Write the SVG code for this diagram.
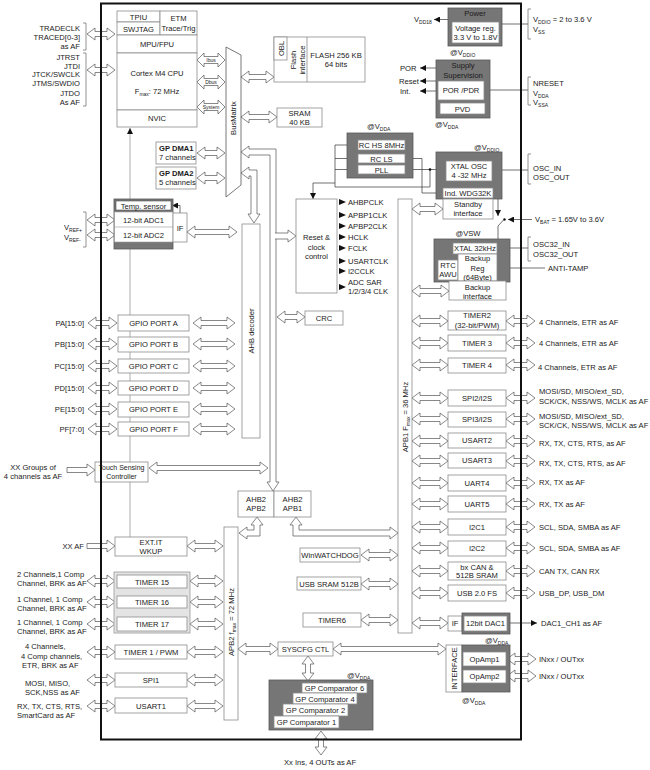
<svg xmlns="http://www.w3.org/2000/svg" width="650" height="770" viewBox="0 0 650 770">
<style>
text{font-family:"Liberation Sans",Arial,sans-serif;font-size:7.6px;fill:#1a1a1a}
.c{text-anchor:middle}
.e{text-anchor:end}
.b{font-weight:bold}
.s{font-size:5px}
.sm{font-size:7px}
.bx{fill:#fff;stroke:#8c8c8c;stroke-width:0.8}
.dk{fill:#767676;stroke:#5a5a5a;stroke-width:0.8}
.lg{fill:#e4e4e4;stroke:#999;stroke-width:0.8}
.ar{fill:#fff;stroke:#555;stroke-width:0.7}
.ln{fill:none;stroke:#333;stroke-width:0.7}
.gl{fill:none;stroke:#999;stroke-width:0.8}
.br{fill:none;stroke:#777;stroke-width:0.8}
.hd{fill:#111}
</style>
<defs>
<marker id="m" viewBox="0 0 10 10" refX="10" refY="5" markerWidth="6" markerHeight="6" markerUnits="userSpaceOnUse" orient="auto"><path d="M0,0L10,5L0,10z" fill="#111"/></marker>
<path id="a28" d="M0,0l8,-6v3.5h12v-3.5l8,6l-8,6v-3.5h-12v3.5z"/>
<path id="a29" d="M0,0l8,-6v3.5h13v-3.5l8,6l-8,6v-3.5h-13v3.5z"/>
<path id="a33" d="M0,0l8,-6v3.5h17v-3.5l8,6l-8,6v-3.5h-17v3.5z"/>
<path id="a36" d="M0,0l8,-6v3.5h20v-3.5l8,6l-8,6v-3.5h-20v3.5z"/>
<path id="a37" d="M0,0l8,-6v3.5h21v-3.5l8,6l-8,6v-3.5h-21v3.5z"/>
<path id="a42" d="M0,0l8,-6v3.5h26v-3.5l8,6l-8,6v-3.5h-26v3.5z"/>
<path id="ib" d="M0,0l7,-7v3.5h14v-3.5l7,7l-7,7v-3.5h-14v3.5z"/>
<path id="tri" d="M0,-3L7,0L0,3z"/>
</defs>

<g id="connectors">
<path class="gl" d="M130,537V128" marker-end="url(#m)"/>
<use href="#a28" x="87" y="34" class="ar"/>
<use href="#a28" x="87" y="70" class="ar"/>
<use href="#a28" x="87" y="220" class="ar"/>
<use href="#a28" x="87" y="235" class="ar"/>
<use href="#a29" x="88" y="323" class="ar"/>
<use href="#a29" x="88" y="344" class="ar"/>
<use href="#a29" x="88" y="366" class="ar"/>
<use href="#a29" x="88" y="388" class="ar"/>
<use href="#a29" x="88" y="409" class="ar"/>
<use href="#a29" x="88" y="429" class="ar"/>
<use href="#a42" x="193" y="323" class="ar"/>
<use href="#a42" x="193" y="344" class="ar"/>
<use href="#a42" x="193" y="366" class="ar"/>
<use href="#a42" x="193" y="388" class="ar"/>
<use href="#a42" x="193" y="409" class="ar"/>
<use href="#a42" x="193" y="429" class="ar"/>
<path class="ar" d="M149,468l8,-6v3.5h103v-3.5l8,6l-8,6v-3.5h-103v3.5z"/>
<path class="ar" d="M67,467.5h20v-3.5l8,6l-8,6v-3.5h-20z"/>
<path class="ar" d="M87,543.5h20v-3.5l8,6l-8,6v-3.5h-20z"/>
<use href="#a36" x="187" y="546" class="ar"/>
<use href="#a28" x="87" y="581" class="ar"/>
<use href="#a28" x="87" y="602" class="ar"/>
<use href="#a28" x="87" y="624" class="ar"/>
<use href="#a33" x="190" y="581" class="ar"/>
<use href="#a33" x="190" y="602" class="ar"/>
<use href="#a33" x="190" y="624" class="ar"/>
<use href="#a28" x="87" y="652" class="ar"/>
<use href="#a28" x="87" y="680" class="ar"/>
<use href="#a28" x="87" y="706" class="ar"/>
<use href="#a36" x="187" y="652" class="ar"/>
<use href="#a36" x="187" y="680" class="ar"/>
<use href="#a36" x="187" y="706" class="ar"/>
<use href="#ib" x="197" y="60" class="ar"/>
<use href="#ib" x="197" y="82" class="ar"/>
<use href="#ib" x="197" y="107" class="ar"/>
<text class="s c" x="211" y="61.8">Ibus</text>
<text class="s c" x="211" y="83.8">Dbus</text>
<text class="s c" x="211" y="108.8">System</text>
<use href="#a28" x="197" y="153" class="ar"/>
<use href="#a28" x="197" y="178" class="ar"/>
<use href="#a33" x="241" y="77" class="ar"/>
<use href="#a36" x="241" y="117" class="ar"/>
<path class="ar" d="M187,232l8,-6v3.5h34v-3.5l8,6l-8,6v-3.5h-34v3.5z"/>
<path class="ar" d="M241,152L249,146L249,149L276,149L276,482L279,482L273,491L267,482L270,482L270,155L249,155L249,158Z"/>
<path class="ar" d="M275,233H288V230L296,236L288,242V239H275"/>
<path class="ar" d="M241,173L249,167L249,170L257,170L257,214L260,214L254,223L248,214L251,214L251,176L249,176L249,179Z"/>
<use href="#a28" x="277" y="317" class="ar"/>
<path class="ar" d="M296,517L302,525L299,525L299,530L390,530L390,527L398,533L390,539L390,536L293,536L293,525L290,525Z"/>
<path class="ar" d="M257,517L263,525L260,525L260,536L247,536L247,539L239,533L247,527L247,530L254,530L254,525L251,525Z"/>
<path class="ar" d="M412,209l8,-6v3.5h15v-3.5l8,6l-8,6v-3.5h-15v3.5z"/>
<use href="#a37" x="412" y="291" class="ar"/>
<use href="#a36" x="412" y="321" class="ar"/>
<use href="#a36" x="412" y="343" class="ar"/>
<use href="#a36" x="412" y="365" class="ar"/>
<use href="#a36" x="412" y="398" class="ar"/>
<use href="#a36" x="412" y="419" class="ar"/>
<use href="#a36" x="412" y="441" class="ar"/>
<use href="#a36" x="412" y="461" class="ar"/>
<use href="#a36" x="412" y="483" class="ar"/>
<use href="#a36" x="412" y="504" class="ar"/>
<use href="#a36" x="412" y="527" class="ar"/>
<use href="#a36" x="412" y="548" class="ar"/>
<use href="#a36" x="412" y="571" class="ar"/>
<use href="#a36" x="412" y="593" class="ar"/>
<use href="#a36" x="412" y="623" class="ar"/>
<use href="#a29" x="506" y="321" class="ar"/>
<use href="#a29" x="506" y="343" class="ar"/>
<use href="#a29" x="506" y="365" class="ar"/>
<use href="#a29" x="506" y="398" class="ar"/>
<use href="#a29" x="506" y="419" class="ar"/>
<use href="#a29" x="506" y="441" class="ar"/>
<use href="#a29" x="506" y="461" class="ar"/>
<use href="#a29" x="506" y="483" class="ar"/>
<use href="#a29" x="506" y="504" class="ar"/>
<use href="#a29" x="506" y="527" class="ar"/>
<use href="#a29" x="506" y="548" class="ar"/>
<use href="#a29" x="506" y="571" class="ar"/>
<use href="#a29" x="506" y="593" class="ar"/>
<use href="#a37" x="361" y="555" class="ar"/>
<use href="#a37" x="361" y="584" class="ar"/>
<use href="#a37" x="361" y="620" class="ar"/>
<path class="ar" d="M238,649l8,-6v3.5h24v-3.5l8,6l-8,6v-3.5h-24v3.5z"/>
<path class="ar" d="M333,649l8,-6v3.5h97v-3.5l8,6l-8,6v-3.5h-97v3.5z"/>
<path class="ar" d="M308,656l6,8h-3.5v9h3.5l-6,8l-6,-8h3.5v-9h-3.5z"/>
<path class="ar" d="M321,731l6,8h-3.5v8h3.5l-6,8l-6,-8h3.5v-8h-3.5z"/>
<use href="#a29" x="507" y="659" class="ar"/>
<use href="#a29" x="507" y="676" class="ar"/>
<path class="ln" d="M448,19.5H434" marker-end="url(#m)"/>
<path class="ln" d="M436,68H420" marker-end="url(#m)"/>
<path class="ln" d="M438,81H420" marker-end="url(#m)"/>
<path class="ln" d="M438,91H420" marker-end="url(#m)"/>
<path class="ln" d="M502,24H528"/>
<path class="ln" d="M490,90H528"/>
<path class="ln" d="M358,145H335V187H430V169.5"/>
<path class="ln" d="M358,158.5H335M358,169.5H335"/>
<path class="ln" d="M405,158.5H422V193H443" marker-end="url(#m)"/>
<path class="ln" d="M405,169.5H446"/>
<circle class="hd" cx="430" cy="169.5" r="1.3"/>
<path class="ln" d="M335,183H313V199" marker-end="url(#m)"/>
<path class="ln" d="M492,170H528"/>
<path class="ln" d="M498,199V216" marker-end="url(#m)"/>
<path class="ln" d="M498,239V226L504,219.5"/>
<circle class="hd" cx="504.5" cy="219.5" r="1.2"/>
<path class="ln" d="M532,219.5H508" marker-end="url(#m)"/>
<path class="ln" d="M497,248H528"/>
<path class="ln" d="M545,268H498" marker-end="url(#m)"/>
<path class="ln" d="M180,213V205.5H172" marker-end="url(#m)"/>
<path class="ln" d="M507,623H537" marker-end="url(#m)"/>
<use href="#tri" x="339" y="202" class="hd"/>
<use href="#tri" x="339" y="215" class="hd"/>
<use href="#tri" x="339" y="226" class="hd"/>
<use href="#tri" x="339" y="237" class="hd"/>
<use href="#tri" x="339" y="248" class="hd"/>
<use href="#tri" x="339" y="261" class="hd"/>
<use href="#tri" x="339" y="271" class="hd"/>
<use href="#tri" x="339" y="287" class="hd"/>
<path class="br" d="M83,23H86V50H83M83,53H86V106H83M83,212H86V247H83"/>
<path class="br" d="M531,9H528V39H531M531,77H528V105H531M531,154H528V184H531M531,237H528V261H531"/>
</g>

<g id="cpu">
<rect class="bx" x="117" y="11" width="43" height="11"/>
<rect class="bx" x="117" y="22" width="43" height="13"/>
<rect class="bx" x="160" y="11" width="37" height="24"/>
<rect class="bx" x="117" y="35" width="80" height="18"/>
<rect class="bx" x="117" y="53" width="80" height="57"/>
<rect class="bx" x="117" y="110" width="80" height="17"/>
<text class="c" x="138.5" y="19.5">TPIU</text>
<text class="c" x="138.5" y="31.5">SWJTAG</text>
<text class="c" x="178.5" y="21">ETM</text>
<text class="c" x="178.5" y="30.5">Trace/Trig</text>
<text class="c" x="157" y="47">MPU/FPU</text>
<text class="c" x="157" y="76">Cortex M4 CPU</text>
<text class="c" x="157" y="94">F<tspan class="s" dy="1.5">max</tspan><tspan dy="-1.5">: 72 MHz</tspan></text>
<text class="c" x="157" y="121">NVIC</text>
</g>

<g id="debug-pins">
<text class="e" x="80" y="31">TRADECLK</text>
<text class="e" x="80" y="40">TRACED[0-3]</text>
<text class="e" x="80" y="49">as AF</text>
<text class="e" x="80" y="60">JTRST</text>
<text class="e" x="80" y="69">JTDI</text>
<text class="e" x="80" y="77">JTCK/SWCLK</text>
<text class="e" x="80" y="86">JTMS/SWDIO</text>
<text class="e" x="80" y="96">JTDO</text>
<text class="e" x="80" y="105">As AF</text>
</g>

<g id="busmatrix">
<polygon points="226,47 241,55 241,185 226,197" fill="#fff" stroke="#555" stroke-width="0.8"/>
<text class="c" transform="translate(236,118) rotate(-90)">BusMatrix</text>
</g>

<g id="flash">
<rect class="bx" x="274" y="37" width="91" height="45"/>
<line x1="307" y1="37" x2="307" y2="82" stroke="#8c8c8c" stroke-width="0.8"/>
<rect class="bx" x="274" y="37" width="13" height="23"/>
<text class="c" transform="translate(283.5,48.5) rotate(-90)">OBL</text>
<text class="c" transform="translate(296,60) rotate(-90)">Flash</text>
<text class="c" transform="translate(305,60) rotate(-90)">interface</text>
<text class="c" x="336" y="58">FLASH 256 KB</text>
<text class="c" x="336" y="67">64 bits</text>
</g>

<g id="sram">
<rect class="bx" x="277" y="108" width="45" height="19"/>
<text class="c" x="299.5" y="116">SRAM</text>
<text class="c" x="299.5" y="125">40 KB</text>
</g>

<g id="power">
<rect class="dk" x="448" y="8" width="54" height="38"/>
<text class="c" x="475" y="16">Power</text>
<rect class="bx" x="452" y="22" width="47" height="21"/>
<text class="c" x="475.5" y="31">Voltage reg.</text>
<text class="c" x="475.5" y="40">3.3 V to 1.8V</text>
<text x="414" y="22">V<tspan class="s" dy="1.5">DD18</tspan></text>
<text x="450" y="55">@V<tspan class="s" dy="1.5">DDIO</tspan></text>
<text x="533" y="22">V<tspan class="s" dy="1.5">DDIO</tspan><tspan dy="-1.5"> = 2 to 3.6 V</tspan></text>
<text x="533" y="32">V<tspan class="s" dy="1.5">SS</tspan></text>
</g>

<g id="supply">
<rect class="dk" x="436" y="60" width="54" height="58"/>
<text class="c" x="463" y="68">Supply</text>
<text class="c" x="463" y="77.5">Supervision</text>
<rect class="bx" x="438" y="81" width="46" height="19"/>
<text class="c" x="461" y="93">POR /PDR</text>
<rect class="bx" x="440" y="103" width="45" height="11"/>
<text class="c" x="462.5" y="111.5">PVD</text>
<text x="400" y="71">POR</text>
<text x="399" y="84">Reset</text>
<text x="400" y="94">Int.</text>
<text x="435" y="127">@V<tspan class="s" dy="1.5">DDA</tspan></text>
<text x="533" y="86">NRESET</text>
<text x="533" y="96">V<tspan class="s" dy="1.5">DDA</tspan></text>
<text x="533" y="105">V<tspan class="s" dy="1.5">SSA</tspan></text>
</g>

<g id="dma1">
<rect class="bx" x="156" y="142" width="40" height="22"/>
<text class="b" x="159" y="151">GP DMA1</text>
<text x="159" y="160">7 channels</text>
</g>
<g id="dma2">
<rect class="bx" x="156" y="167" width="40" height="22"/>
<text class="b" x="159" y="176">GP DMA2</text>
<text x="159" y="185">5 channels</text>
</g>

<g id="rc-osc">
<text x="367" y="129">@V<tspan class="s" dy="1.5">DDA</tspan></text>
<rect class="dk" x="347" y="133" width="66" height="45"/>
<rect class="bx" x="358" y="140" width="47" height="10"/>
<text class="c" x="381.5" y="148">RC HS 8MHz</text>
<rect class="bx" x="358" y="154" width="47" height="9"/>
<text class="c" x="381.5" y="161.5">RC LS</text>
<rect class="bx" x="358" y="165" width="47" height="9"/>
<text class="c" x="381.5" y="172.5">PLL</text>
</g>

<g id="xtal-osc">
<text x="474" y="150">@V<tspan class="s" dy="1.5">DDIO</tspan></text>
<rect class="dk" x="436" y="152" width="66" height="47"/>
<rect class="bx" x="446" y="161" width="46" height="20"/>
<text class="c" x="469" y="169">XTAL OSC</text>
<text class="c" x="469" y="178">4 -32 MHz</text>
<rect class="bx" x="443" y="188" width="50" height="10"/>
<text class="c" x="468" y="196">Ind. WDG32K</text>
<text x="533" y="171">OSC_IN</text>
<text x="533" y="180">OSC_OUT</text>
</g>

<g id="standby">
<rect class="bx" x="443" y="199" width="50" height="20"/>
<text class="c" x="468" y="207">Standby</text>
<text class="c" x="468" y="216">interface</text>
<text x="535" y="222">V<tspan class="s" dy="1.5">BAT</tspan><tspan dy="-1.5"> = 1.65V to 3.6V</tspan></text>
</g>

<g id="backup-domain">
<text class="c" x="468" y="236">@VSW</text>
<rect class="dk" x="434" y="239" width="76" height="43"/>
<rect class="bx" x="453" y="243" width="44" height="11"/>
<text class="c" x="475" y="251">XTAL 32kHz</text>
<rect class="bx" x="438" y="260" width="20" height="20"/>
<text class="c" x="448" y="268">RTC</text>
<text class="c" x="448" y="277">AWU</text>
<rect class="bx" x="458" y="254" width="39" height="27"/>
<text class="c" x="477.5" y="261">Backup</text>
<text class="c" x="477.5" y="270.5">Reg</text>
<text class="c" x="477.5" y="280">(64Byte)</text>
<text x="533" y="247">OSC32_IN</text>
<text x="533" y="257">OSC32_OUT</text>
<text x="548" y="271">ANTI-TAMP</text>
</g>

<g id="backup-if">
<rect class="bx" x="449" y="281" width="57" height="19"/>
<text class="c" x="477.5" y="290">Backup</text>
<text class="c" x="477.5" y="298.5">interface</text>
</g>

<g id="adc">
<rect class="dk" x="114" y="199" width="59" height="50"/>
<rect fill="#fff" stroke="#999" stroke-width="0.6" x="114.5" y="212" width="58.5" height="30"/>
<line x1="114.5" y1="227" x2="173" y2="227" stroke="#999" stroke-width="0.6"/>
<rect fill="#fff" stroke="#555" stroke-width="0.6" x="116" y="201" width="55" height="9"/>
<text class="c" x="143.5" y="208.5">Temp. sensor</text>
<text class="c" x="143.5" y="223">12-bit ADC1</text>
<text class="c" x="143.5" y="238">12-bit ADC2</text>
<rect class="bx" x="173" y="213" width="14" height="29"/>
<text class="c" x="180" y="231">IF</text>
<text x="64" y="230">V<tspan class="s" dy="1.5">REF+</tspan></text>
<text x="64" y="240">V<tspan class="s" dy="1.5">REF-</tspan></text>
</g>

<g id="reset-clock">
<rect class="bx" x="296" y="199" width="41" height="94"/>
<text class="c" x="316.5" y="240">Reset &amp;</text>
<text class="c" x="316.5" y="250">clock</text>
<text class="c" x="316.5" y="259">control</text>
<text x="348" y="205">AHBPCLK</text>
<text x="348" y="218">APBP1CLK</text>
<text x="348" y="229">APBP2CLK</text>
<text x="348" y="240">HCLK</text>
<text x="348" y="251">FCLK</text>
<text x="348" y="264">USARTCLK</text>
<text x="348" y="274">I2CCLK</text>
<text x="348" y="285">ADC SAR</text>
<text x="348" y="294">1/2/3/4 CLK</text>
</g>

<g id="ahb-decoder">
<rect class="bx" x="242" y="224" width="18" height="214"/>
<text class="c" transform="translate(254,331) rotate(-90)">AHB decoder</text>
</g>

<g id="crc">
<rect class="bx" x="305" y="311" width="38" height="14"/>
<text class="c" x="324" y="321">CRC</text>
</g>

<g id="gpio">
<rect class="bx" x="118" y="315" width="71" height="16"/>
<rect class="bx" x="118" y="337" width="71" height="15"/>
<rect class="bx" x="118" y="359" width="71" height="14"/>
<rect class="bx" x="118" y="381" width="71" height="14"/>
<rect class="bx" x="118" y="402" width="71" height="15"/>
<rect class="bx" x="118" y="422" width="71" height="14"/>
<text class="c" x="153.5" y="326">GPIO PORT A</text>
<text class="c" x="153.5" y="347">GPIO PORT B</text>
<text class="c" x="153.5" y="369">GPIO PORT C</text>
<text class="c" x="153.5" y="391">GPIO PORT D</text>
<text class="c" x="153.5" y="412">GPIO PORT E</text>
<text class="c" x="153.5" y="432">GPIO PORT F</text>
<text class="e" x="84" y="326">PA[15:0]</text>
<text class="e" x="84" y="347">PB[15:0]</text>
<text class="e" x="84" y="369">PC[15:0]</text>
<text class="e" x="84" y="391">PD[15:0]</text>
<text class="e" x="84" y="412">PE[15:0]</text>
<text class="e" x="84" y="432">PF[7:0]</text>
</g>

<g id="touch">
<rect class="bx" x="95" y="462" width="53" height="20"/>
<text class="c sm" x="121.5" y="470">Touch Sensing</text>
<text class="c sm" x="121.5" y="479">Controller</text>
<text class="c" x="33" y="470">XX Groups of</text>
<text class="c" x="33" y="479">4 channels as AF</text>
</g>

<g id="apb1">
<rect class="bx" x="398" y="199" width="14" height="434"/>
<text class="c" transform="translate(408,417) rotate(-90)">APB1 F<tspan class="s" dy="1.5">max</tspan><tspan dy="-1.5"> = 36 MHz</tspan></text>
</g>

<g id="apb1-periph">
<rect class="bx" x="448" y="311" width="58" height="19"/>
<text class="c" x="477" y="318">TIMER2</text>
<text class="c" x="477" y="327.5">(32-bit/PWM)</text>
<rect class="bx" x="448" y="335" width="58" height="16"/>
<text class="c" x="477" y="346">TIMER 3</text>
<rect class="bx" x="448" y="358" width="58" height="15"/>
<text class="c" x="477" y="368">TIMER 4</text>
<rect class="bx" x="448" y="390" width="58" height="16"/>
<text class="c" x="477" y="401">SPI2/I2S</text>
<rect class="bx" x="448" y="412" width="58" height="15"/>
<text class="c" x="477" y="422">SPI3/I2S</text>
<rect class="bx" x="448" y="433" width="58" height="15"/>
<text class="c" x="477" y="443">USART2</text>
<rect class="bx" x="448" y="453" width="58" height="15"/>
<text class="c" x="477" y="463">USART3</text>
<rect class="bx" x="448" y="475" width="58" height="16"/>
<text class="c" x="477" y="486">UART4</text>
<rect class="bx" x="448" y="496" width="58" height="16"/>
<text class="c" x="477" y="507">UART5</text>
<rect class="bx" x="448" y="519" width="58" height="16"/>
<text class="c" x="477" y="530">I2C1</text>
<rect class="bx" x="448" y="541" width="58" height="15"/>
<text class="c" x="477" y="551">I2C2</text>
<rect class="bx" x="448" y="562" width="58" height="18"/>
<text class="c" x="477" y="569.5">bx CAN &amp;</text>
<text class="c" x="477" y="578">512B SRAM</text>
<rect class="bx" x="448" y="585" width="58" height="16"/>
<text class="c" x="477" y="596">USB 2.0 FS</text>
<text x="539" y="325">4 Channels, ETR as AF</text>
<text x="539" y="346">4 Channels, ETR as AF</text>
<text x="538" y="370">4 Channels, ETR as AF</text>
<text x="539" y="394">MOSI/SD, MISO/ext_SD,</text>
<text x="539" y="404">SCK/CK, NSS/WS, MCLK as AF</text>
<text x="539" y="419">MOSI/SD, MISO/ext_SD,</text>
<text x="539" y="428">SCK/CK, NSS/WS, MCLK as AF</text>
<text x="539" y="446">RX, TX, CTS, RTS, as AF</text>
<text x="539" y="466">RX, TX, CTS, RTS, as AF</text>
<text x="539" y="485">RX, TX as AF</text>
<text x="539" y="507">RX, TX as AF</text>
<text x="539" y="530">SCL, SDA, SMBA as AF</text>
<text x="539" y="551">SCL, SDA, SMBA as AF</text>
<text x="539" y="574">CAN TX, CAN RX</text>
<text x="539" y="596">USB_DP, USB_DM</text>
</g>

<g id="dac">
<rect class="bx" x="448" y="616" width="14" height="15"/>
<text class="c" x="455" y="626">IF</text>
<rect class="dk" x="462" y="613" width="48" height="21"/>
<rect class="bx" x="464" y="616" width="43" height="15"/>
<text class="c" x="485.5" y="626">12bit DAC1</text>
<text x="541" y="626">DAC1_CH1 as AF</text>
</g>

<g id="apb1-left">
<rect class="bx" x="300" y="548" width="60" height="14"/>
<text class="c" x="330" y="558">WinWATCHDOG</text>
<rect class="bx" x="297" y="577" width="64" height="13"/>
<text class="c" x="329" y="586.5">USB SRAM 512B</text>
<rect class="bx" x="303" y="613" width="58" height="14"/>
<text class="c" x="332" y="623">TIMER6</text>
</g>

<g id="ahb2-bridges">
<rect class="bx" x="238" y="491" width="36" height="26"/>
<rect class="bx" x="274" y="491" width="37" height="26"/>
<text class="c" x="256" y="502">AHB2</text>
<text class="c" x="256" y="511">APB2</text>
<text class="c" x="292.5" y="502">AHB2</text>
<text class="c" x="292.5" y="511">APB1</text>
</g>

<g id="apb2">
<rect class="bx" x="224" y="527" width="14" height="193"/>
<text class="c" transform="translate(234,622) rotate(-90)">APB2  f<tspan class="s" dy="1.5">max</tspan><tspan dy="-1.5"> = 72 MHz</tspan></text>
</g>

<g id="apb2-periph">
<rect class="bx" x="115" y="537" width="72" height="19"/>
<text class="c" x="151" y="545">EXT.IT</text>
<text class="c" x="151" y="554">WKUP</text>
<text class="e" x="84" y="549">XX AF</text>
<rect class="lg" x="114" y="572" width="76" height="61"/>
<rect class="bx" x="117" y="575" width="70" height="13"/>
<rect class="bx" x="117" y="596" width="70" height="12"/>
<rect class="bx" x="117" y="617" width="70" height="14"/>
<text class="c" x="152" y="584.5">TIMER 15</text>
<text class="c" x="152" y="605">TIMER 16</text>
<text class="c" x="152" y="627">TIMER 17</text>
<rect class="bx" x="115" y="645" width="72" height="14"/>
<text class="c" x="151" y="655">TIMER 1 / PWM</text>
<rect class="bx" x="115" y="673" width="72" height="14"/>
<text class="c" x="151" y="683">SPI1</text>
<rect class="bx" x="115" y="698" width="72" height="15"/>
<text class="c" x="151" y="708.5">USART1</text>
<text x="17" y="577">2 Channels,1 Comp</text>
<text x="17" y="586">Channel, BRK as AF</text>
<text x="17" y="602">1 Channel, 1 Comp</text>
<text x="17" y="611">Channel, BRK as AF</text>
<text x="17" y="625">1 Channel, 1 Comp</text>
<text x="17" y="634">Channel, BRK as AF</text>
<text x="25" y="649">4 Channels,</text>
<text x="21" y="659">4 Comp channels,</text>
<text x="22" y="668">ETR, BRK as AF</text>
<text x="25" y="686">MOSI, MISO,</text>
<text x="25" y="695">SCK,NSS as AF</text>
<text x="17" y="709">RX, TX, CTS, RTS,</text>
<text x="17" y="718">SmartCard as AF</text>
</g>

<g id="syscfg">
<rect class="bx" x="278" y="642" width="55" height="14"/>
<text class="c" x="305.5" y="652">SYSCFG CTL</text>
</g>

<g id="comparators">
<text x="347" y="678">@V<tspan class="s" dy="1.5">DDA</tspan></text>
<rect class="dk" x="269" y="680" width="104" height="50"/>
<rect class="bx" x="302" y="683" width="65" height="10"/>
<text class="c" x="334.5" y="690.5">GP Comparator 6</text>
<rect class="bx" x="293" y="693" width="64" height="11"/>
<text class="c" x="325" y="701.5">GP Comparator 4</text>
<rect class="bx" x="283" y="704" width="65" height="12"/>
<text class="c" x="315.5" y="713">GP Comparator 2</text>
<rect class="bx" x="274" y="716" width="65" height="12"/>
<text class="c" x="306.5" y="725">GP Comparator 1</text>
<text class="c" x="320" y="765">Xx Ins, 4 OUTs as AF</text>
</g>

<g id="opamp">
<text x="485" y="643">@V<tspan class="s" dy="1.5">DDA</tspan></text>
<rect class="bx" x="446" y="645" width="16" height="47"/>
<text class="c" transform="translate(457,668.5) rotate(-90)">INTERFACE</text>
<rect class="dk" x="462" y="645" width="48" height="47"/>
<rect class="bx" x="463" y="652" width="43" height="14"/>
<text class="c" x="484.5" y="662">OpAmp1</text>
<rect class="bx" x="463" y="670" width="43" height="13"/>
<text class="c" x="484.5" y="679">OpAmp2</text>
<text x="462" y="703">@V<tspan class="s" dy="1.5">DDA</tspan></text>
<text x="539" y="662">INxx / OUTxx</text>
<text x="539" y="679">INxx / OUTxx</text>
</g>

<rect id="chip-border" x="101" y="3.5" width="420" height="736" fill="none" stroke="#111" stroke-width="2"/>
</svg>
